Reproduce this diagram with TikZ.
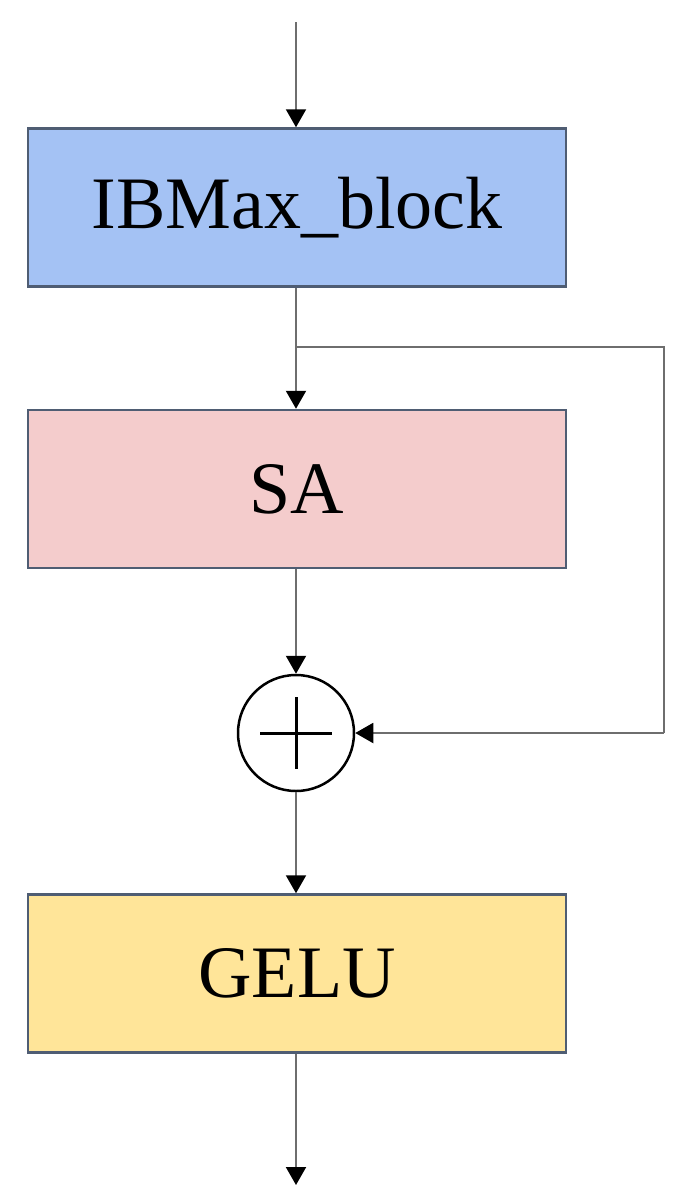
\documentclass[tikz,border=0pt]{standalone}
\usepackage{fontspec}
\setmainfont{Liberation Serif}
\usetikzlibrary{arrows.meta}
\definecolor{boxblue}{HTML}{A4C2F4}
\definecolor{boxpink}{HTML}{F4CCCC}
\definecolor{boxyellow}{HTML}{FFE599}
\definecolor{boxedge}{HTML}{4F5D73}
\definecolor{wire}{HTML}{6E6E6E}
\tikzset{
  blockbox/.style={draw=boxedge, line width=2.5pt, minimum width=538pt, minimum height=158pt, inner sep=0pt, font=\fontsize{74pt}{80pt}\selectfont},
  conn/.style={draw=wire, line width=2pt, -{Triangle[width=20pt,length=18pt,color=black]}},
  plainwire/.style={draw=wire, line width=2pt},
}
\begin{document}
\begin{tikzpicture}[x=1pt,y=-1pt]
\useasboundingbox (0,0) rectangle (687,1202);
\coordinate (in) at (296,22);
\node[blockbox, fill=boxblue] (ib) at (297,207.5) {IBMax\_block};
\node[blockbox, fill=boxpink] (sa) at (297,489) {SA};
\node[circle, draw=black, line width=2.5pt, minimum size=116pt, inner sep=0pt] (add) at (296,733) {};
\draw[line width=3pt] (add.center) ++(-36,0) -- ++(72,0);
\draw[line width=3pt] (add.center) ++(0,-36) -- ++(0,72);
\node[blockbox, fill=boxyellow] (gelu) at (297,973.5) {GELU};
\coordinate (split) at (296,347);
\coordinate (rt) at (664,347);
\coordinate (rb) at (664,733);
\coordinate (out) at (296,1185);
\draw[conn] (in) -- (in |- ib.north);
\draw[conn] (split |- ib.south) -- (split |- sa.north);
\draw[plainwire] (split) -- (rt) -- (rb);
\draw[conn] (rb) -- (add.east);
\draw[conn] (add.center |- sa.south) -- (add.north);
\draw[conn] (add.south) -- (add.center |- gelu.north);
\draw[conn] (add.center |- gelu.south) -- (out);
\end{tikzpicture}
\end{document}
